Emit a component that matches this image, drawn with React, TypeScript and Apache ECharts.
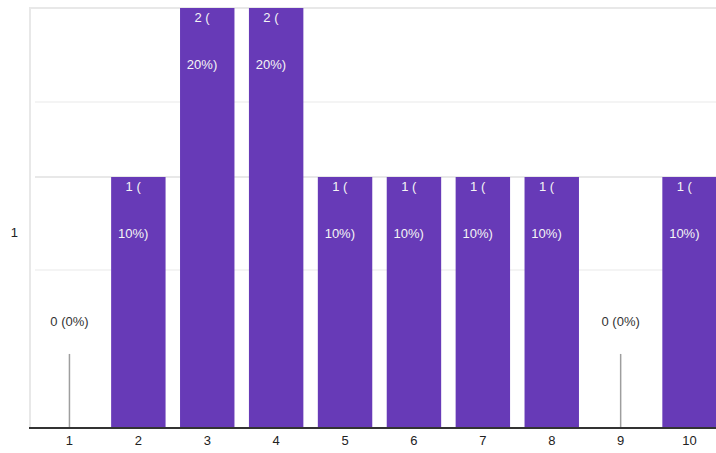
import React, { useEffect, useRef } from "react";
import * as echarts from "echarts";

const CATEGORIES = ["1", "2", "3", "4", "5", "6", "7", "8", "9", "10"];
const COUNTS = [0, 1, 2, 2, 1, 1, 1, 1, 0, 1];
const PERCENTS = [0, 10, 20, 20, 10, 10, 10, 10, 0, 10];
const Y_MAX = 1.673;
const Y_TICK_LABELS = ["1"];
const Y_TICK_AT = [0.777];
const MAJOR_LINES = [1];
const MINOR_LINES = [0.63, 1.3];
const ZERO_STUB = 0.295;

const FONT = "Arial, 'Liberation Sans', sans-serif";

export default function App() {
  const ref = useRef<HTMLDivElement>(null);
  useEffect(() => {
    if (!ref.current) return;
    const chart = echarts.init(ref.current, null, { renderer: "svg" });
    const mainData = COUNTS.map((c) => (c === 0 ? "-" : c));
    const stubData = COUNTS.map((c) => (c === 0 ? ZERO_STUB : "-"));
    chart.setOption({
      animation: false,
      textStyle: { fontFamily: FONT },
      grid: {
        left: 35,
        right: 0,
        top: 8,
        bottom: 25,
        show: false,
      },
      graphic: [
        {
          type: "rect",
          z: -10,
          silent: true,
          shape: { x: 30, y: 8, width: 700, height: 420 },
          style: { fill: "none", stroke: "#e8e8e8", lineWidth: 2 },
        },
        {
          type: "line",
          z: 100,
          silent: true,
          shape: { x1: 29, y1: 428, x2: 724, y2: 428 },
          style: { stroke: "#333333", lineWidth: 2 },
        },
      ],
      xAxis: [
        {
          type: "category",
          data: CATEGORIES,
          axisLine: { show: false },
          axisTick: { show: false },
          axisLabel: { color: "#222222", fontSize: 13, margin: 6, fontFamily: FONT },
        },
        {
          type: "category",
          data: CATEGORIES,
          show: false,
        },
      ],
      yAxis: {
        type: "value",
        min: 0,
        max: Y_MAX,
        splitLine: { show: false },
        axisLine: { show: false },
        axisTick: { show: false },
        axisLabel: {
          customValues: Y_TICK_AT,
          formatter: (v: number) => {
            const i = Y_TICK_AT.findIndex((t) => Math.abs(t - v) < 1e-6);
            return i >= 0 ? Y_TICK_LABELS[i] : "";
          },
          color: "#222222",
          fontSize: 13,
          margin: 17,
          fontFamily: FONT,
        },
      },
      series: [
        {
          type: "bar",
          xAxisIndex: 0,
          data: mainData,
          barCategoryGap: "21%",
          itemStyle: { color: "#673ab7" },
          label: {
            show: true,
            position: [22, -14],
            align: "center",
            verticalAlign: "top",
            color: "#f5f5f5",
            fontSize: 13,
            lineHeight: 47,
            fontFamily: FONT,
            formatter: (p: any) => `${COUNTS[p.dataIndex]} (\n${PERCENTS[p.dataIndex]}%)`,
          },
          markLine: {
            silent: true,
            symbol: "none",
            z: 1,
            label: { show: false },
            data: [
              ...MAJOR_LINES.map((v) => ({ yAxis: v, lineStyle: { color: "#e8e8e8", width: 2, type: "solid" } })),
              ...MINOR_LINES.map((v) => ({ yAxis: v, lineStyle: { color: "#f4f4f4", width: 2, type: "solid" } })),
            ],
          },
        },
        {
          type: "bar",
          xAxisIndex: 1,
          data: stubData,
          barWidth: 1.5,
          itemStyle: { color: "#9e9e9e" },
          label: {
            show: true,
            position: "top",
            distance: 26,
            color: "#333333",
            fontSize: 13,
            fontFamily: FONT,
            formatter: (p: any) => `${COUNTS[p.dataIndex]} (${PERCENTS[p.dataIndex]}%)`,
          },
        },
      ],
    });
    return () => chart.dispose();
  }, []);
  return (
    <div style={{ width: 716, height: 453, position: "absolute", left: 0, top: 0, overflow: "hidden" }}>
      <div ref={ref} style={{ width: 724, height: 453 }} />
    </div>
  );
}
